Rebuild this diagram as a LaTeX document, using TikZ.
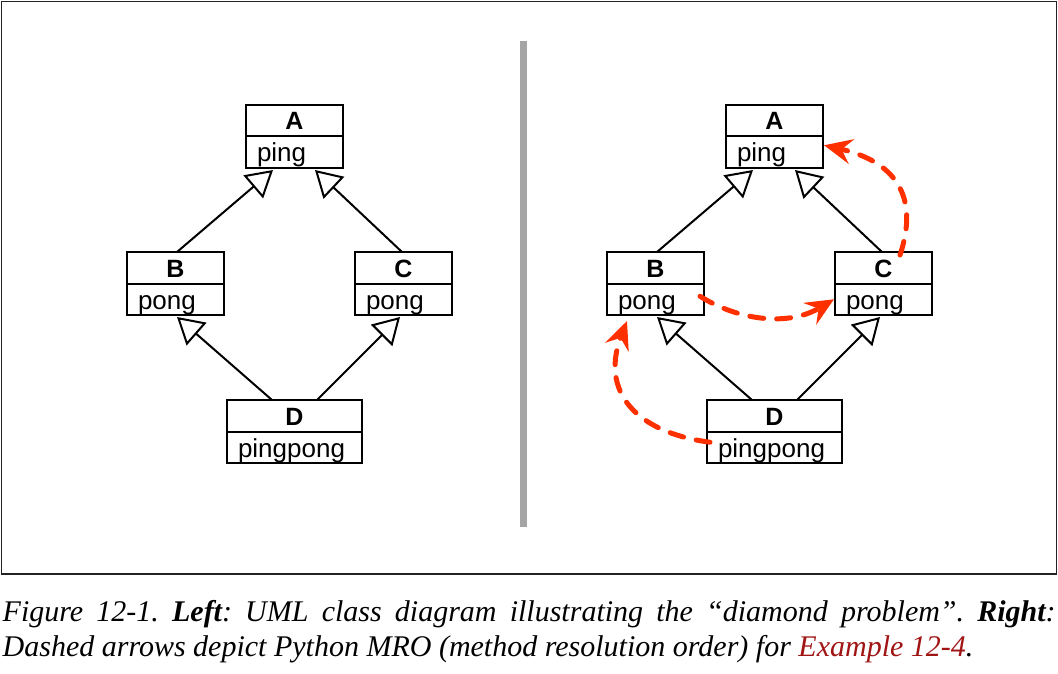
\documentclass[tikz,border=0pt]{standalone}
\usepackage{fontspec}
\setmainfont{Liberation Serif}
\newfontfamily\umlfont{Liberation Sans}
\usetikzlibrary{arrows.meta,calc}
\definecolor{mrored}{RGB}{255,48,0}
\definecolor{linkred}{RGB}{160,20,20}
\definecolor{framegray}{RGB}{34,34,34}
\definecolor{sepgray}{RGB}{165,165,165}
\tikzset{
  umlhead/.style={draw, line width=2pt, inner sep=0pt, outer sep=0pt, anchor=north west,
    text height=25pt, text depth=6.5pt, font=\umlfont\fontsize{25}{25}\selectfont\bfseries},
  umlbody/.style={draw, line width=2pt, inner ysep=0pt, inner xsep=11pt, outer sep=0pt, anchor=north,
    align=left, text height=25.5pt, text depth=6pt, font=\umlfont\fontsize{26}{26}\selectfont},
  inherit/.style={line width=2pt, -{Triangle[open,length=26pt,width=30pt,fill=white]}},
  mro/.style={mrored, line width=5pt, dash pattern=on 14pt off 13pt, line cap=round,
    -{Stealth[length=28pt,width=25pt,inset=10pt]}},
  capfont/.style={font=\fontsize{30}{30}\selectfont\itshape\frenchspacing, inner sep=0pt, anchor=base west}
}
\begin{document}
\begin{tikzpicture}[x=1pt,y=-1pt]
\useasboundingbox (0,0) rectangle (1058,674);
\draw[framegray, line width=1.3pt] (1.5,1.5) rectangle (1056.3,574);
\fill[sepgray] (520,41) rectangle (527,527);

% left diagram
\node[umlhead, minimum width=97pt] (A) at (246,105) {A};
\node[umlbody, text width=75pt] (Ab) at (A.south) {ping};
\node[umlhead, minimum width=97pt] (B) at (127,252) {B};
\node[umlbody, text width=75pt] (Bb) at (B.south) {pong};
\node[umlhead, minimum width=97pt] (C) at (355,252) {C};
\node[umlbody, text width=75pt] (Cb) at (C.south) {pong};
\node[umlhead, minimum width=135pt] (D) at (227,400) {D};
\node[umlbody, text width=113pt] (Db) at (D.south) {pingpong};

\draw[inherit] ([xshift=1.5pt]B.north) -- ([xshift=-21.5pt,yshift=-2pt]Ab.south);
\draw[inherit] ([xshift=-1.5pt]C.north) -- ([xshift=20.5pt,yshift=-2pt]Ab.south);
\draw[inherit] ([xshift=-22.5pt]D.north) -- ([xshift=1.5pt,yshift=-2pt]Bb.south);
\draw[inherit] ([xshift=22.5pt]D.north) -- ([xshift=-3.5pt,yshift=-2pt]Cb.south);

% right diagram
\node[umlhead, minimum width=97pt] (A2) at (726,105) {A};
\node[umlbody, text width=75pt] (A2b) at (A2.south) {ping};
\node[umlhead, minimum width=97pt] (B2) at (607,252) {B};
\node[umlbody, text width=75pt] (B2b) at (B2.south) {pong};
\node[umlhead, minimum width=97pt] (C2) at (835,252) {C};
\node[umlbody, text width=75pt] (C2b) at (C2.south) {pong};
\node[umlhead, minimum width=135pt] (D2) at (707,400) {D};
\node[umlbody, text width=113pt] (D2b) at (D2.south) {pingpong};

\draw[inherit] ([xshift=1.5pt]B2.north) -- ([xshift=-21.5pt,yshift=-2pt]A2b.south);
\draw[inherit] ([xshift=-1.5pt]C2.north) -- ([xshift=20.5pt,yshift=-2pt]A2b.south);
\draw[inherit] ([xshift=-22.5pt]D2.north) -- ([xshift=1.5pt,yshift=-2pt]B2b.south);
\draw[inherit] ([xshift=22.5pt]D2.north) -- ([xshift=-3.5pt,yshift=-2pt]C2b.south);

% MRO arrows
\draw[mro] ([xshift=16.5pt,yshift=-3pt]C2.north) .. controls +(20,-60) and +(70,16) .. ([xshift=1pt,yshift=7pt]A2b.east);
\draw[mro] ([xshift=-4pt,yshift=3pt]B2b.east) .. controls +(40,25) and +(-45,27) .. ([xshift=-1pt]C2b.west);
\draw[mro] ([xshift=3pt,yshift=5pt]D2b.west) .. controls +(-75,-10) and +(-27,70) .. ([xshift=-28.5pt,yshift=-6pt]B2b.south);

% caption
\node[capfont] (cap1) at (2.5,621.5) {\makebox[1053pt][s]{Figure 12-1. \textbf{Left}: UML class diagram illustrating the “diamond problem”. \textbf{Right}:}};
\node[capfont] (cap2) at (2.5,656.5) {Dashed arrows depict Python MRO (method resolution order) for \textcolor{linkred}{Example 12-4}.};
\end{tikzpicture}
\end{document}
